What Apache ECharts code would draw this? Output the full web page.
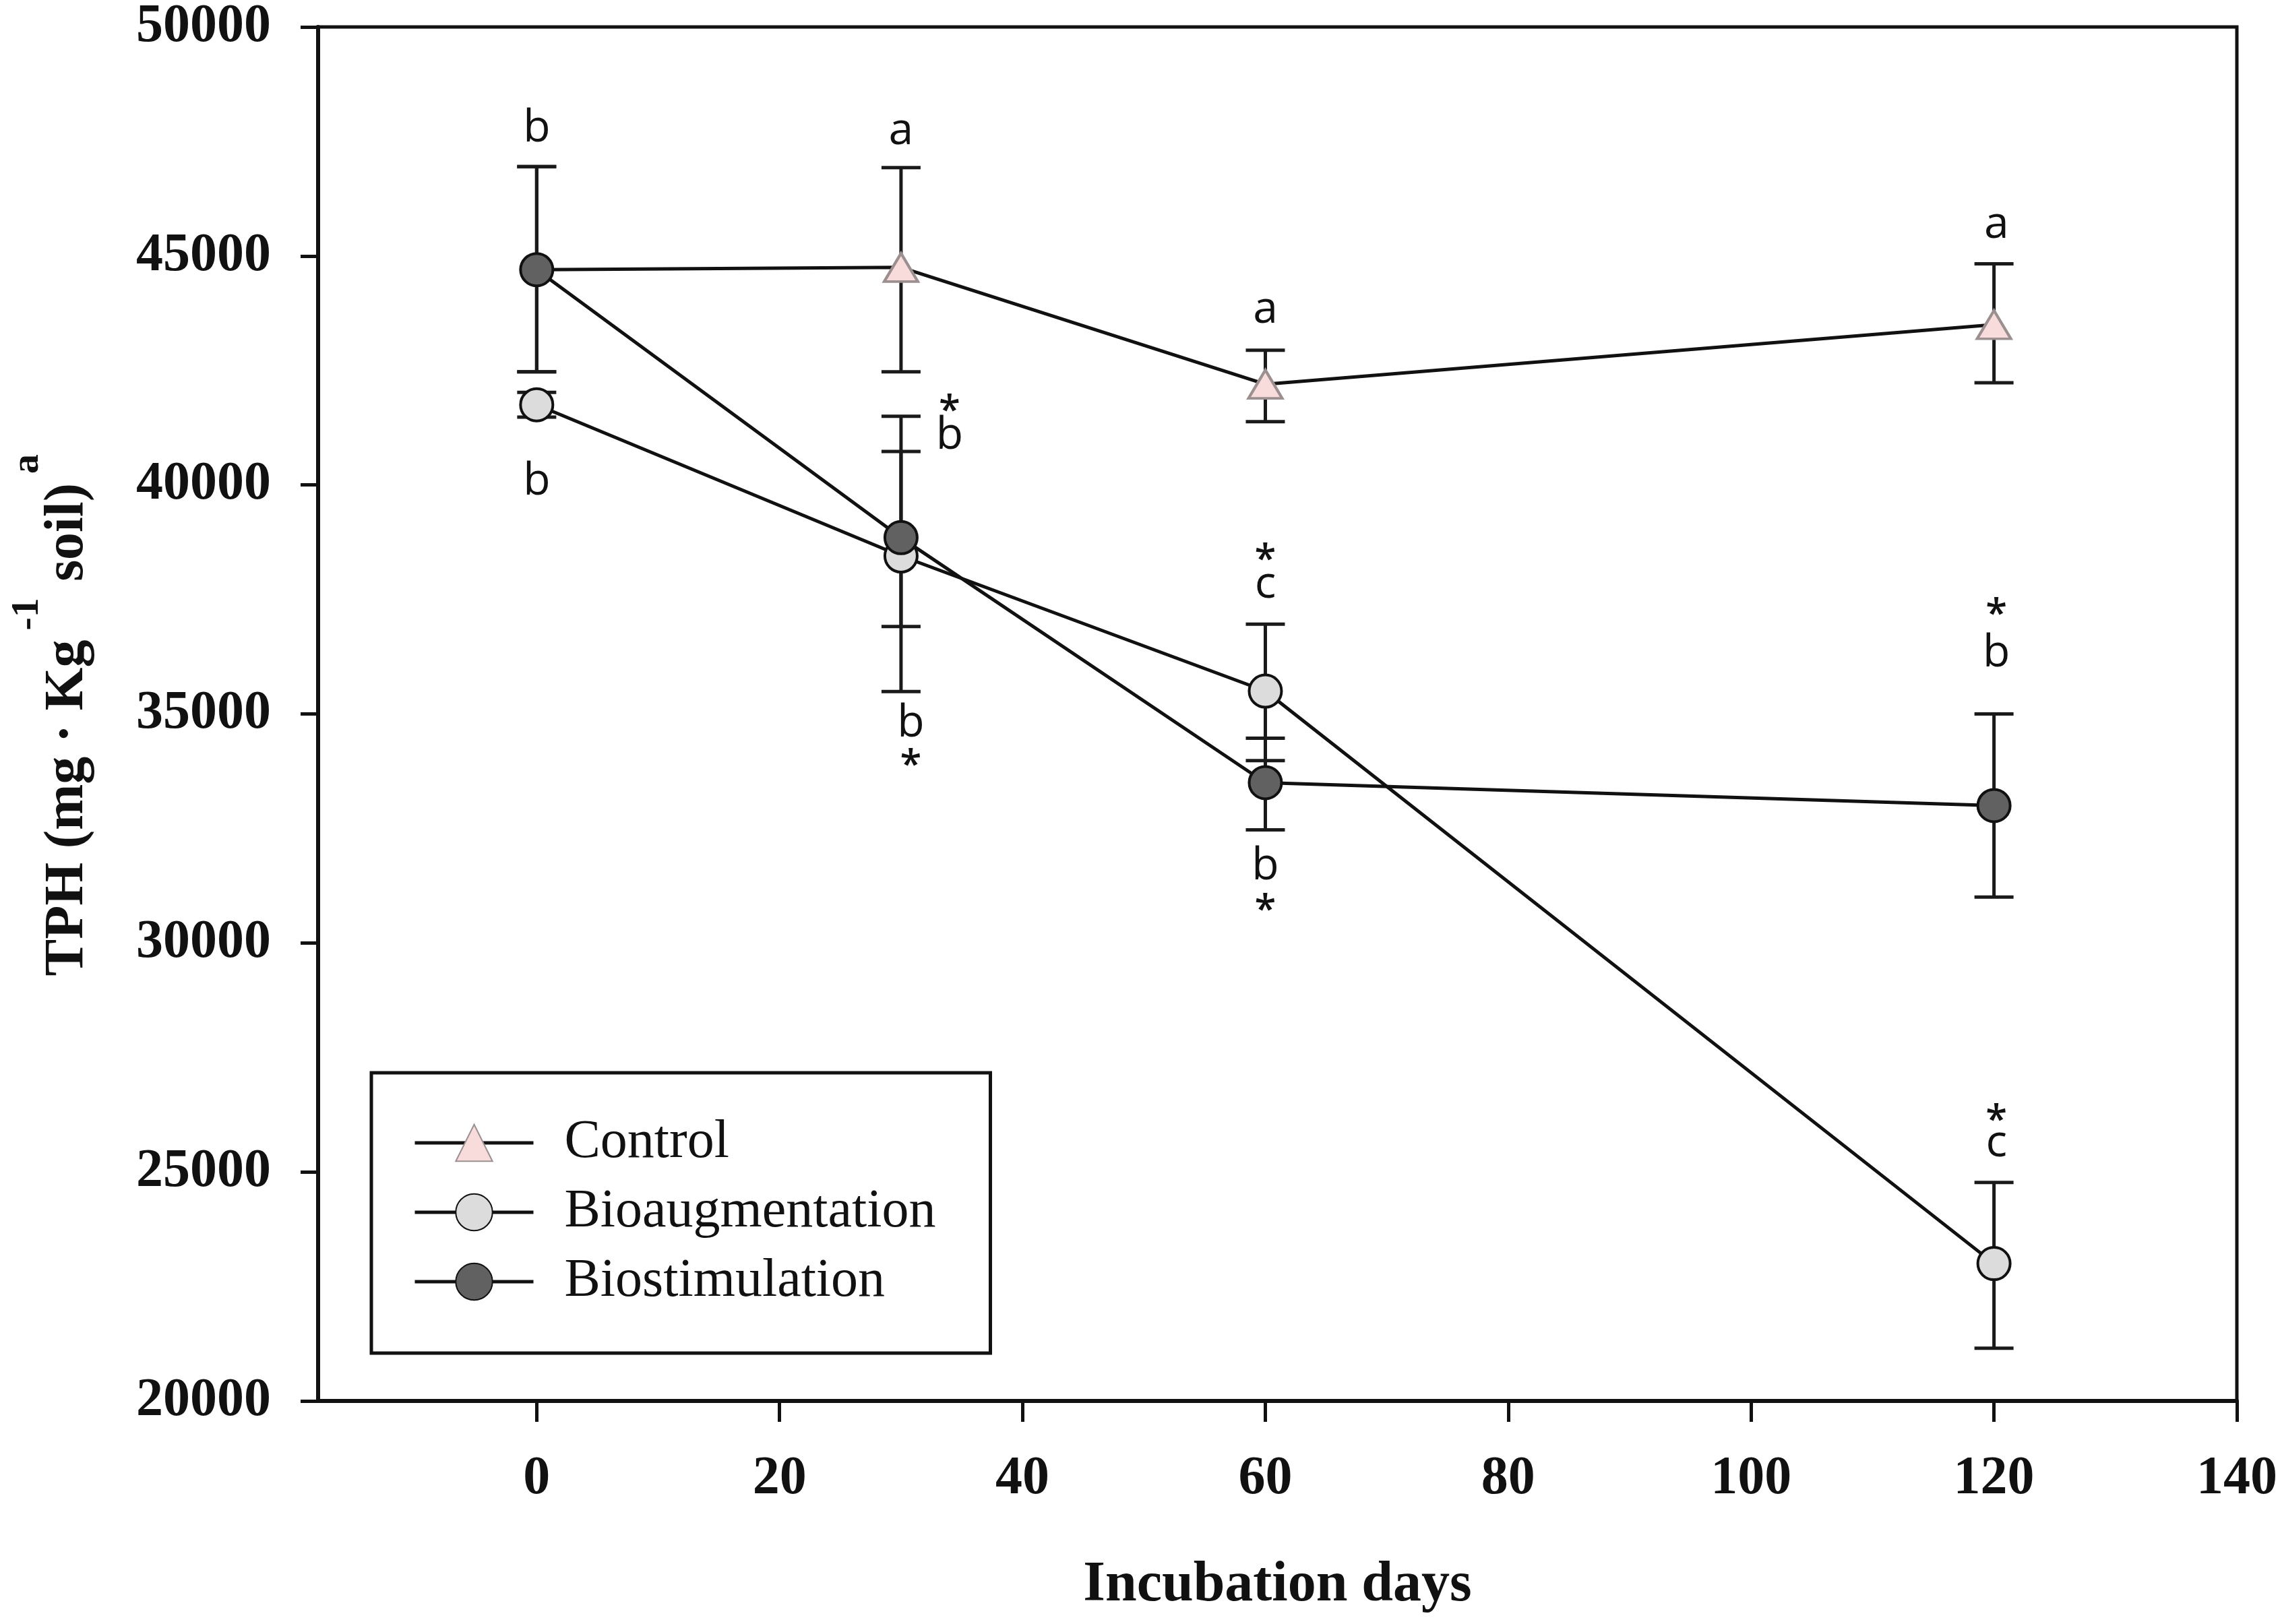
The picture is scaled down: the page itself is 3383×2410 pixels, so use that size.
<!DOCTYPE html>
<html>
<head>
<meta charset="utf-8">
<script src="https://cdn.jsdelivr.net/npm/echarts@6/dist/echarts.min.js"></script>
<style>
  html, body { margin: 0; padding: 0; background: #fff; }
  #chart { width: 3383px; height: 2410px; }
</style>
</head>
<body>
<div id="chart"></div>
<script>
(function() {

    'use strict';

    // sampling days
    var days = [0, 30, 60, 120];
    var xTicks = [0, 20, 40, 60, 80, 100, 120, 140];

    // TPH means and error bar ends (mg/kg soil)
    var controlMean = [44700, 44750, 42200, 43500];
    var controlLow = [42470, 42470, 41380, 42230];
    var controlHigh = [46950, 46930, 42940, 44830];

    var bioaugMean = [41750, 38450, 35500, 23000];
    var bioaugLow = [41480, 35490, 33980, 21150];
    var bioaugHigh = [42020, 41500, 36960, 24770];

    var biostimMean = [44700, 38850, 33500, 33000];
    var biostimLow = [42470, 36910, 32470, 31000];
    var biostimHigh = [46950, 40730, 34470, 35000];

    // significance letters and asterisks
    var noteX = [0, 0, 30, 34, 34, 30.8, 30.8, 60, 60, 60, 60, 60, 120.2, 120.2, 120.2, 120.2, 120.2];
    var noteY = [47770, 40060, 47720, 41800, 41060, 34790, 34060, 43820, 38550, 37820, 31670, 30890, 45670, 37360, 36320, 26310, 25620];
    var noteText = ['b', 'b', 'a', '*', 'b', 'b', '*', 'a', '*', 'c', 'b', '*', 'a', '*', 'b', '*', 'c'];

    var serifFont = '"Liberation Serif", "Times New Roman", serif';
    var noteFont = '"Open Sans", "Noto Sans", sans-serif';

    function zip() {
        var cols = Array.prototype.slice.call(arguments);
        var out = [];
        for (var i = 0; i < cols[0].length; i++) {
            var row = [];
            for (var c = 0; c < cols.length; c++) row.push(cols[c][i]);
            out.push(row);
        }
        return out;
    }

    function renderErrorBar(params, api) {
        var x = api.value(0);
        var lo = api.coord([x, api.value(1)]);
        var hi = api.coord([x, api.value(2)]);
        var half = 29;
        var style = { stroke: '#1a1a1a', lineWidth: 5 };
        return {
            type: 'group',
            children: [
                { type: 'line', shape: { x1: lo[0], y1: lo[1], x2: hi[0], y2: hi[1] }, style: style },
                { type: 'line', shape: { x1: lo[0] - half, y1: lo[1], x2: lo[0] + half, y2: lo[1] }, style: style },
                { type: 'line', shape: { x1: hi[0] - half, y1: hi[1], x2: hi[0] + half, y2: hi[1] }, style: style }
            ]
        };
    }

    function renderNote(params, api) {
        var p = api.coord([api.value(0), api.value(1)]);
        var txt = noteText[params.dataIndex];
        return {
            type: 'text',
            x: p[0],
            y: p[1] + (txt === '*' ? 14 : 0),
            style: {
                text: txt,
                fill: '#111',
                font: (txt === '*' ? '600 58px ' : '500 66px ') + noteFont,
                textAlign: 'center',
                textVerticalAlign: 'middle'
            }
        };
    }

    function errorSeries(name, low, high) {
        return {
            name: name + ' err',
            type: 'custom',
            renderItem: renderErrorBar,
            data: zip(days, low, high),
            z: 2,
            silent: true
        };
    }

    // control at day 0 sits under the biostimulation marker
    var controlData = zip(days, controlMean).map(function(d, i) {
        return i === 0 ? { value: d, symbol: 'none' } : d;
    });

    var myChart = echarts.init(document.getElementById('chart'), null, { renderer: 'canvas' });

    var option = {
        backgroundColor: '#fff',
        animation: false,
        grid: {
            left: 472,
            right: 64,
            top: 32,
            bottom: 331,
            show: true,
            borderColor: '#111',
            borderWidth: 5,
            backgroundColor: '#fff'
        },
        legend: {
            left: 551,
            top: 1592,
            orient: 'vertical',
            data: ['Control', 'Bioaugmentation', 'Biostimulation'],
            borderColor: '#111',
            borderWidth: 5,
            padding: [64, 81, 66, 62],
            itemWidth: 176,
            itemHeight: 68,
            itemGap: 23,
            lineStyle: { width: 5, color: '#111' },
            textStyle: {
                fontFamily: serifFont,
                fontSize: 80,
                color: '#111',
                lineHeight: 64,
                padding: [0, 0, 0, 41]
            }
        },
        xAxis: {
            type: 'value',
            min: -18,
            max: 140,
            name: 'Incubation days',
            nameLocation: 'middle',
            nameGap: 232,
            nameTextStyle: { fontFamily: serifFont, fontWeight: 'bold', fontSize: 84, color: '#111' },
            splitLine: { show: false },
            axisLine: { onZero: false, lineStyle: { color: '#111', width: 6 } },
            axisTick: { customValues: xTicks, length: 31, lineStyle: { color: '#111', width: 5 } },
            axisLabel: {
                customValues: xTicks,
                margin: 76,
                fontFamily: serifFont,
                fontWeight: 'bold',
                fontSize: 80,
                color: '#111'
            }
        },
        yAxis: {
            type: 'value',
            min: 20000,
            max: 50000,
            interval: 5000,
            name: '{h| }{m|TPH (mg · Kg}{s|-1}{m| soil)}{s|a}',
            nameLocation: 'middle',
            nameRotate: 90,
            nameGap: 330,
            nameTextStyle: {
                rich: {
                    h: { fontSize: 2, lineHeight: 130 },
                    m: { fontFamily: serifFont, fontWeight: 'bold', fontSize: 82, lineHeight: 82, color: '#111', verticalAlign: 'bottom' },
                    s: { fontFamily: serifFont, fontWeight: 'bold', fontSize: 58, lineHeight: 58, color: '#111', verticalAlign: 'top', padding: [0, 4, 0, 14] }
                }
            },
            splitLine: { show: false },
            axisLine: { show: true, onZero: false, lineStyle: { color: '#111', width: 6 } },
            axisTick: { show: true, length: 26, lineStyle: { color: '#111', width: 5 } },
            axisLabel: {
                margin: 70,
                fontFamily: serifFont,
                fontWeight: 'bold',
                fontSize: 80,
                color: '#111',
                formatter: function(v) { return String(v); }
            }
        },
        series: [
            errorSeries('Control', controlLow, controlHigh),
            errorSeries('Bioaugmentation', bioaugLow, bioaugHigh),
            errorSeries('Biostimulation', biostimLow, biostimHigh),
            {
                name: 'Control',
                type: 'line',
                data: controlData,
                symbol: 'triangle',
                symbolSize: [50, 42],
                showAllSymbol: true,
                lineStyle: { color: '#111', width: 5 },
                itemStyle: { color: '#f8dcdc', borderColor: '#9b8f8f', borderWidth: 4 },
                z: 3
            },
            {
                name: 'Bioaugmentation',
                type: 'line',
                data: zip(days, bioaugMean),
                symbol: 'circle',
                symbolSize: 48,
                lineStyle: { color: '#111', width: 5 },
                itemStyle: { color: '#dcdcdc', borderColor: '#111', borderWidth: 4 },
                z: 4
            },
            {
                name: 'Biostimulation',
                type: 'line',
                data: zip(days, biostimMean),
                symbol: 'circle',
                symbolSize: 48,
                lineStyle: { color: '#111', width: 5 },
                itemStyle: { color: '#616161', borderColor: '#111', borderWidth: 4 },
                z: 5
            },
            {
                name: 'notes',
                type: 'custom',
                renderItem: renderNote,
                data: zip(noteX, noteY),
                z: 6,
                silent: true
            }
        ]
    };

    myChart.setOption(option);

})();
</script>
</body>
</html>
